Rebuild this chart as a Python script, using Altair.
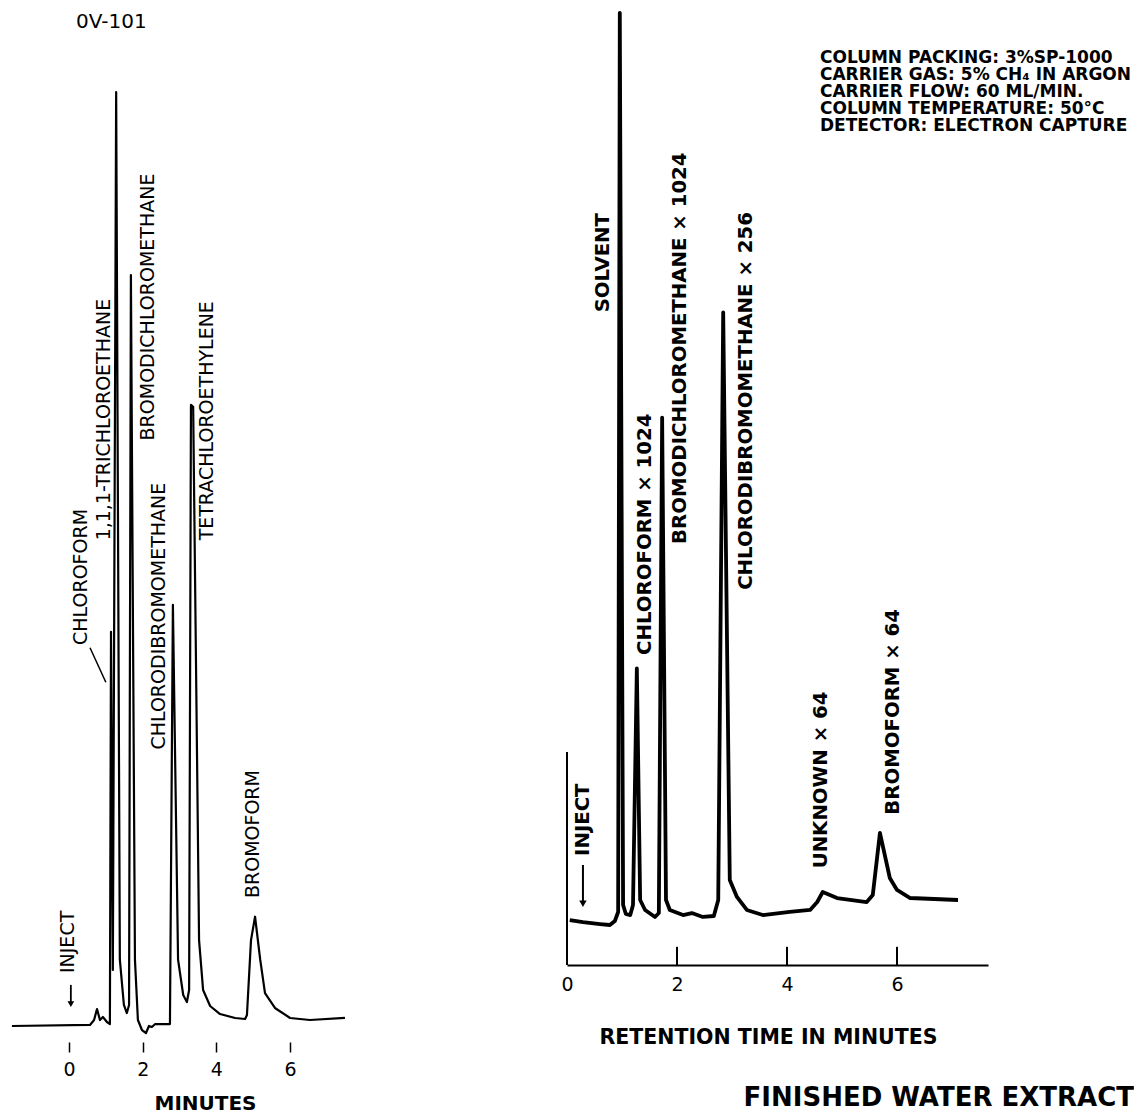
import altair as alt
import pandas as pd

FONT = "DejaVu Sans"

# ---------------- Left chromatogram (OV-101) ----------------
left_time = [-1.55, 0.57, 0.68, 0.76, 0.84, 0.92, 1.03, 1.11, 1.14, 1.19, 1.28, 1.38,
             1.49, 1.57, 1.63, 1.68, 1.79, 1.87, 1.98, 2.09, 2.17, 2.25, 2.34, 2.74,
             2.82, 2.96, 3.10, 3.20, 3.26, 3.31, 3.37, 3.53, 3.64, 3.83, 4.10, 4.51,
             4.78, 4.83, 4.94, 5.05, 5.19, 5.32, 5.59, 6.00, 6.54, 7.49]
left_signal = [0, 0.11, 0.64, 1.82, 0.64, 0.96, 0.43, 0.21, 42.2, 6.0, 100, 7.1,
               2.25, 1.39, 2.25, 80.4, 7.1, 0.64, -0.43, -0.75, 0, -0.11, 0.21, 0.21,
               45.1, 7.1, 3.32, 2.57, 3.85, 66.5, 66.3, 9.2, 3.85, 2.14, 1.28, 0.86,
               0.75, 1.18, 9.2, 11.7, 7.1, 3.53, 1.93, 0.86, 0.64, 0.86]
left_ticks = [0, 2, 4, 6]

left_names = ["CHLOROFORM", "1,1,1-TRICHLOROETHANE", "BROMODICHLOROMETHANE",
              "CHLORODIBROMOMETHANE", "TETRACHLOROETHYLENE", "BROMOFORM", "INJECT"]
left_name_t = [0.33, 0.95, 2.14, 2.44, 3.75, 5.00, -0.03]
left_name_s = [40.8, 52.0, 62.7, 29.6, 52.0, 13.7, 5.67]

# ---------------- Right chromatogram (finished water extract) ----------------
right_time = [0.05, 0.29, 0.60, 0.78, 0.87, 0.93, 0.96, 1.02, 1.07, 1.15, 1.20, 1.27,
              1.33, 1.42, 1.60, 1.67, 1.73, 1.80, 1.87, 2.11, 2.27, 2.47, 2.67, 2.75,
              2.84, 2.96, 3.09, 3.27, 3.56, 4.05, 4.42, 4.55, 4.65, 4.91, 5.45, 5.56,
              5.69, 5.87, 6.00, 6.24, 7.11]
right_signal = [4.70, 4.49, 4.28, 4.18, 4.60, 5.54, 99.5, 6.27, 5.33, 5.22, 6.27, 31.0,
                6.79, 5.75, 5.02, 5.43, 57.2, 6.79, 5.75, 5.22, 5.43, 5.02, 5.12, 6.79,
                68.2, 8.88, 7.11, 5.75, 5.22, 5.54, 5.75, 6.58, 7.63, 7.00, 6.58, 7.31,
                13.8, 9.09, 7.84, 7.00, 6.79]
right_ticks = [0, 2, 4, 6]

right_names = ["SOLVENT", "CHLOROFORM × 1024", "BROMODICHLOROMETHANE × 1024",
               "CHLORODIBROMOMETHANE × 256", "UNKNOWN × 64", "BROMOFORM × 64", "INJECT"]
right_name_t = [0.65, 1.42, 2.05, 3.25, 4.62, 5.93, 0.29]
right_name_s = [68.2, 32.4, 44.0, 39.2, 10.1, 15.7, 11.4]

info_lines = ["COLUMN PACKING: 3%SP-1000",
              "CARRIER GAS: 5% CH\u2084 IN ARGON",
              "CARRIER FLOW: 60 ML/MIN.",
              "COLUMN TEMPERATURE: 50°C",
              "DETECTOR: ELECTRON CAPTURE"]

one = pd.DataFrame({"k": [0]})

# ---------------- Left panel ----------------
lx_scale = alt.Scale(domain=[-1.656, 7.6], nice=False, zero=False)
ly_scale = alt.Scale(domain=[-1.713, 109.0], nice=False, zero=False)

left_df = pd.DataFrame({"t": left_time, "s": left_signal})
left_lab = pd.DataFrame({"label": left_names, "t": left_name_t, "s": left_name_s})

left_line = alt.Chart(left_df).mark_line(color="black", strokeWidth=2.2, strokeJoin="round").encode(
    x=alt.X("t:Q", scale=lx_scale,
            axis=alt.Axis(values=left_ticks, format="d", domain=False, grid=False, tickSize=10,
                          tickWidth=1.5, tickColor="black", labelFontSize=19,
                          labelFont=FONT, labelColor="black", labelPadding=8,
                          labelFlush=False, title="MINUTES", titleFont=FONT,
                          titleFontSize=20, titleFontWeight="bold", titleColor="black",
                          titleX=197, titleY=61, titleAlign="center",
                          titleBaseline="middle")),
    y=alt.Y("s:Q", scale=ly_scale, axis=None),
)

left_text = alt.Chart(left_lab).mark_text(
    angle=270, align="left", baseline="middle", font=FONT, fontSize=19, color="black"
).encode(x=alt.X("t:Q", scale=lx_scale), y=alt.Y("s:Q", scale=ly_scale), text="label:N")

left_leader = alt.Chart(one).mark_rule(color="black", strokeWidth=1.5).encode(
    x=alt.datum(0.57, scale=lx_scale), y=alt.datum(40.5, scale=ly_scale),
    x2=alt.datum(1.0), y2=alt.datum(36.8))

left_arrow = alt.Chart(one).mark_rule(color="black", strokeWidth=1.8).encode(
    x=alt.datum(0.05, scale=lx_scale), y=alt.datum(4.4, scale=ly_scale), y2=alt.datum(2.5))
left_head = alt.Chart(one).mark_point(
    shape="triangle-down", filled=True, color="black", size=45, opacity=1).encode(
    x=alt.datum(0.05, scale=lx_scale), y=alt.datum(2.35, scale=ly_scale))

left_title = alt.Chart(one).mark_text(
    text="0V-101", font=FONT, fontSize=20, color="black", align="center", baseline="middle"
).encode(x=alt.datum(1.15, scale=lx_scale), y=alt.datum(107.5, scale=ly_scale))

left = alt.layer(left_line, left_text, left_leader, left_arrow, left_head, left_title).properties(
    width=341, height=1034)

# ---------------- Right panel ----------------
rx_scale = alt.Scale(domain=[0, 7.655], nice=False, zero=False)
ry_scale = alt.Scale(domain=[0, 100], nice=False, zero=False)

right_df = pd.DataFrame({"t": right_time, "s": right_signal})
right_lab = pd.DataFrame({"label": right_names, "t": right_name_t, "s": right_name_s})
tick_df = pd.DataFrame({"t": [v for v in right_ticks if v > 0]})

right_line = alt.Chart(right_df).mark_line(color="black", strokeWidth=3.8, strokeJoin="round").encode(
    x=alt.X("t:Q", scale=rx_scale,
            axis=alt.Axis(values=right_ticks, format="d", domain=True, domainColor="black",
                          domainWidth=2, ticks=False, tickSize=0, grid=False,
                          labelFontSize=19, labelFont=FONT, labelColor="black",
                          labelPadding=10, labelFlush=False,
                          title="RETENTION TIME IN MINUTES", titleFont=FONT,
                          titleFontSize=20.5, titleFontWeight="bold", titleColor="black",
                          titleX=201, titleY=72, titleAlign="center",
                          titleBaseline="middle")),
    y=alt.Y("s:Q", scale=ry_scale, axis=None),
)

right_yaxis = alt.Chart(one).mark_rule(color="black", strokeWidth=2).encode(
    x=alt.datum(0, scale=rx_scale), y=alt.datum(0, scale=ry_scale), y2=alt.datum(22.26))

right_tickmarks = alt.Chart(tick_df).mark_rule(color="black", strokeWidth=2).encode(
    x=alt.X("t:Q", scale=rx_scale), y=alt.datum(0, scale=ry_scale), y2=alt.datum(1.9))

right_text = alt.Chart(right_lab).mark_text(
    angle=270, align="left", baseline="middle", font=FONT, fontSize=19.7,
    fontWeight="bold", color="black"
).encode(x=alt.X("t:Q", scale=rx_scale), y=alt.Y("s:Q", scale=ry_scale), text="label:N")

right_arrow = alt.Chart(one).mark_rule(color="black", strokeWidth=2).encode(
    x=alt.datum(0.29, scale=rx_scale), y=alt.datum(10.45, scale=ry_scale), y2=alt.datum(6.6))
right_head = alt.Chart(one).mark_point(
    shape="triangle-down", filled=True, color="black", size=55, opacity=1).encode(
    x=alt.datum(0.29, scale=rx_scale), y=alt.datum(6.4, scale=ry_scale))

info = alt.Chart(one).mark_text(
    text=info_lines, align="left", baseline="top", font=FONT, fontSize=17,
    fontWeight="bold", lineHeight=17, color="black"
).encode(x=alt.datum(4.6, scale=rx_scale), y=alt.datum(95.6, scale=ry_scale))

big_title = alt.Chart(one).mark_text(
    text="FINISHED WATER EXTRACT", align="center", baseline="middle", font=FONT,
    fontSize=26, fontWeight="bold", color="black"
).encode(x=alt.datum(6.76, scale=rx_scale), y=alt.datum(-13.9, scale=ry_scale))

right = alt.layer(right_line, right_yaxis, right_tickmarks, right_text, right_arrow,
                  right_head, info, big_title).properties(width=421, height=957)

chart = alt.hconcat(left, right, spacing=218, bounds="flush").properties(
    padding=0, background="white"
).configure_view(stroke=None)

chart.save("out.html", embed_options={"renderer": "svg", "actions": False})
